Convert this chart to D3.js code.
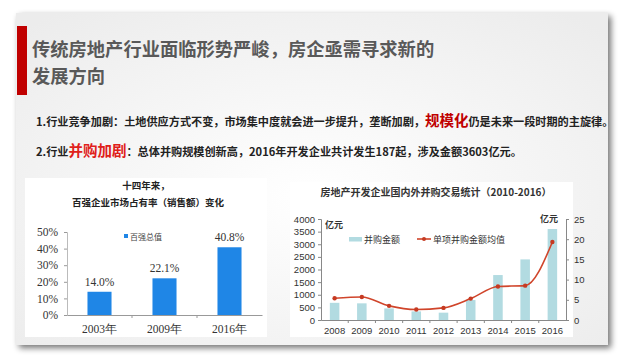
<!DOCTYPE html>
<html><head><meta charset="utf-8">
<script src="https://cdn.jsdelivr.net/npm/d3@7"></script>
<style>
html,body{margin:0;padding:0;background:#fff;}
svg{display:block;}
</style></head>
<body>
<svg id="c" width="625" height="360"></svg>
<script>
// ---------- data ----------
const titleLines = ["传统房地产行业面临形势严峻，房企亟需寻求新的", "发展方向"];
const shareCats = ["2003年", "2009年", "2016年"];
const shareValues = [14.0, 22.1, 40.8];
const shareTicks = [0, 10, 20, 30, 40, 50];
const maYears = ["2008","2009","2010","2011","2012","2013","2014","2015","2016"];
const maAmount = [680, 660, 460, 340, 290, 790, 1780, 2400, 3603];
const maAverage = [5.4, 5.7, 3.5, 2.6, 3.0, 5.3, 8.3, 8.5, 19.3];
const maLeftTicks = [0,500,1000,1500,2000,2500,3000,3500,4000];
const maRightTicks = [0,5,10,15,20,25];

const svg = d3.select("#c");
const CJK = "'Noto Sans CJK SC','Noto Sans',sans-serif";
const SERIF = "'Liberation Serif','DejaVu Serif',serif";
const SANS = "'Liberation Sans',Arial,sans-serif";

// ---------- slide panel ----------
const defs = svg.append("defs");
const f = defs.append("filter").attr("id","sh").attr("x","-5%").attr("y","-5%").attr("width","112%").attr("height","115%");
f.append("feGaussianBlur").attr("in","SourceAlpha").attr("stdDeviation",3);
f.append("feOffset").attr("dx",3).attr("dy",3).attr("result","o");
f.append("feComponentTransfer").append("feFuncA").attr("type","linear").attr("slope",0.55);
const m = f.append("feMerge"); m.append("feMergeNode"); m.append("feMergeNode").attr("in","SourceGraphic");
const g = defs.append("radialGradient").attr("id","bg").attr("cx","50%").attr("cy","55%").attr("r","70%");
g.append("stop").attr("offset","0%").attr("stop-color","#ffffff");
g.append("stop").attr("offset","100%").attr("stop-color","#ececec");

svg.append("rect").attr("x",16).attr("y",13).attr("width",592).attr("height",332)
  .attr("fill","url(#bg)").attr("filter","url(#sh)");
svg.append("rect").attr("x",17).attr("y",26).attr("width",10).attr("height",69).attr("fill","#c00000");

svg.append("g").selectAll("text").data(titleLines).join("text")
  .attr("x",32).attr("y",(d,i)=>56+i*27)
  .attr("font-family",CJK).attr("font-weight","bold").attr("font-size",18.3)
  .attr("fill","#595959").text(d=>d);

// body lines
const line1 = svg.append("text").attr("x",36).attr("y",126).attr("font-family",CJK)
  .attr("font-weight","bold").attr("font-size",11.15).attr("fill","#222");
line1.append("tspan").text("1.行业竞争加剧：土地供应方式不变，市场集中度就会进一步提升，垄断加剧，");
line1.append("tspan").attr("fill","#c00000").attr("font-size",14.5).text("规模化");
line1.append("tspan").text("仍是未来一段时期的主旋律。");

const line2 = svg.append("text").attr("x",36).attr("y",156).attr("font-family",CJK)
  .attr("font-weight","bold").attr("font-size",11.15).attr("fill","#222");
line2.append("tspan").text("2.行业");
line2.append("tspan").attr("fill","#e0201a").attr("font-size",14.5).text("并购加剧");
line2.append("tspan").text("：总体并购规模创新高，2016年开发企业共计发生187起，涉及金额3603亿元。");

// ---------- left chart ----------
svg.append("rect").attr("x",25).attr("y",178).attr("width",242).attr("height",159).attr("fill","#fff");
svg.append("text").attr("x",146).attr("y",189).attr("text-anchor","middle").attr("font-family",CJK)
  .attr("font-weight","bold").attr("font-size",9.5).attr("fill","#222").text("十四年来，");
svg.append("text").attr("x",148).attr("y",206).attr("text-anchor","middle").attr("font-family",CJK)
  .attr("font-weight","bold").attr("font-size",9.5).attr("fill","#222").text("百强企业市场占有率（销售额）变化");

const lx = d3.scaleBand().domain(shareCats).range([67,262]).paddingInner(0.63).paddingOuter(0.315);
const ly = d3.scaleLinear().domain([0,50]).range([315,232]);

const lya = svg.append("g").attr("transform","translate(67,0)")
  .call(d3.axisLeft(ly).tickValues(shareTicks).tickFormat(d=>d+"%").tickSize(3).tickPadding(6));
lya.select(".domain").attr("stroke","#bbb");
lya.selectAll(".tick line").attr("stroke","#999");
lya.selectAll("text").attr("font-family",SERIF).attr("font-size",11.5).attr("fill","#333");

const lxa = svg.append("g").attr("transform","translate(0,315)")
  .call(d3.axisBottom(lx).tickSize(0).tickPadding(10));
lxa.select(".domain").attr("stroke","#999");
lxa.selectAll("text").attr("font-family",SERIF).attr("font-size",11.5).attr("fill","#333");
svg.append("g").selectAll("line").data(shareCats.slice(1)).join("line")
  .attr("x1",d=>lx(d)-lx.step()*lx.paddingInner()/2).attr("x2",d=>lx(d)-lx.step()*lx.paddingInner()/2)
  .attr("y1",315).attr("y2",318).attr("stroke","#999");

svg.append("g").selectAll("rect").data(shareValues).join("rect")
  .attr("x",(d,i)=>lx(shareCats[i])).attr("width",lx.bandwidth())
  .attr("y",d=>ly(d)).attr("height",d=>ly(0)-ly(d)).attr("fill","#1f86e6");
svg.append("g").selectAll("text").data(shareValues).join("text")
  .attr("x",(d,i)=>lx(shareCats[i])+lx.bandwidth()/2).attr("y",d=>ly(d)-6)
  .attr("text-anchor","middle").attr("font-family",SERIF).attr("font-size",11.5).attr("fill","#333")
  .text(d=>d.toFixed(1)+"%");

svg.append("rect").attr("x",124).attr("y",234).attr("width",4).attr("height",4).attr("fill","#1f86e6");
svg.append("text").attr("x",130).attr("y",239.5).attr("font-family",CJK).attr("font-size",8)
  .attr("fill","#444").text("百强总值");

// ---------- right chart ----------
svg.append("rect").attr("x",290).attr("y",182).attr("width",283).attr("height",155).attr("fill","#fff");
svg.append("text").attr("x",436).attr("y",196).attr("text-anchor","middle").attr("font-family",CJK)
  .attr("font-weight","bold").attr("font-size",10).attr("fill","#333").text("房地产开发企业国内外并购交易统计（2010-2016）");

const rx = d3.scaleBand().domain(maYears).range([321,566]).paddingInner(0.65).paddingOuter(0.325);
const ryL = d3.scaleLinear().domain([0,4000]).range([320,219]);
const ryR = d3.scaleLinear().domain([0,25]).range([320,219]);

function styleAxis(a){
  a.select(".domain").attr("stroke","#888");
  a.selectAll(".tick line").attr("stroke","#888");
  a.selectAll("text").attr("font-family",SANS).attr("font-size",9.5).attr("fill","#333");
}
styleAxis(svg.append("g").attr("transform","translate(321,0)")
  .call(d3.axisLeft(ryL).tickValues(maLeftTicks).tickFormat(d3.format("d")).tickSize(3).tickPadding(3)));
styleAxis(svg.append("g").attr("transform","translate(566,0)")
  .call(d3.axisRight(ryR).tickValues(maRightTicks).tickFormat(d3.format("d")).tickSize(3).tickPadding(5)));
const rxa = svg.append("g").attr("transform","translate(0,320)")
  .call(d3.axisBottom(rx).tickSize(0).tickPadding(7));
styleAxis(rxa);
svg.append("g").selectAll("line").data(maYears.slice(1)).join("line")
  .attr("x1",d=>rx(d)-rx.step()*rx.paddingInner()/2).attr("x2",d=>rx(d)-rx.step()*rx.paddingInner()/2)
  .attr("y1",320).attr("y2",323).attr("stroke","#888");

svg.append("g").selectAll("rect").data(maAmount).join("rect")
  .attr("x",(d,i)=>rx(maYears[i])).attr("width",rx.bandwidth())
  .attr("y",d=>ryL(d)).attr("height",d=>ryL(0)-ryL(d)).attr("fill","#b2dbe1");

const lineGen = d3.line().x((d,i)=>rx(maYears[i])+rx.bandwidth()/2).y(d=>ryR(d)).curve(d3.curveMonotoneX);
svg.append("path").datum(maAverage).attr("d",lineGen).attr("fill","none")
  .attr("stroke","#d0452b").attr("stroke-width",1.6);
svg.append("g").selectAll("circle").data(maAverage).join("circle")
  .attr("cx",(d,i)=>rx(maYears[i])+rx.bandwidth()/2).attr("cy",d=>ryR(d)).attr("r",2.2)
  .attr("fill","#c63a22");

svg.append("text").attr("x",325).attr("y",228).attr("font-family",CJK).attr("font-weight","bold")
  .attr("font-size",9).attr("fill","#333").text("亿元");
svg.append("text").attr("x",540).attr("y",222).attr("font-family",CJK).attr("font-weight","bold")
  .attr("font-size",9).attr("fill","#333").text("亿元");

svg.append("rect").attr("x",349).attr("y",237).attr("width",13).attr("height",4.5).attr("fill","#b2dbe1");
svg.append("text").attr("x",364).attr("y",242.5).attr("font-family",CJK).attr("font-size",9)
  .attr("fill","#333").text("并购金额");
svg.append("line").attr("x1",417).attr("x2",431).attr("y1",239).attr("y2",239)
  .attr("stroke","#d0452b").attr("stroke-width",1.6);
svg.append("circle").attr("cx",424).attr("cy",239).attr("r",2).attr("fill","#c63a22");
svg.append("text").attr("x",433).attr("y",242.5).attr("font-family",CJK).attr("font-size",9)
  .attr("fill","#333").text("单项并购金额均值");
</script>
</body></html>
